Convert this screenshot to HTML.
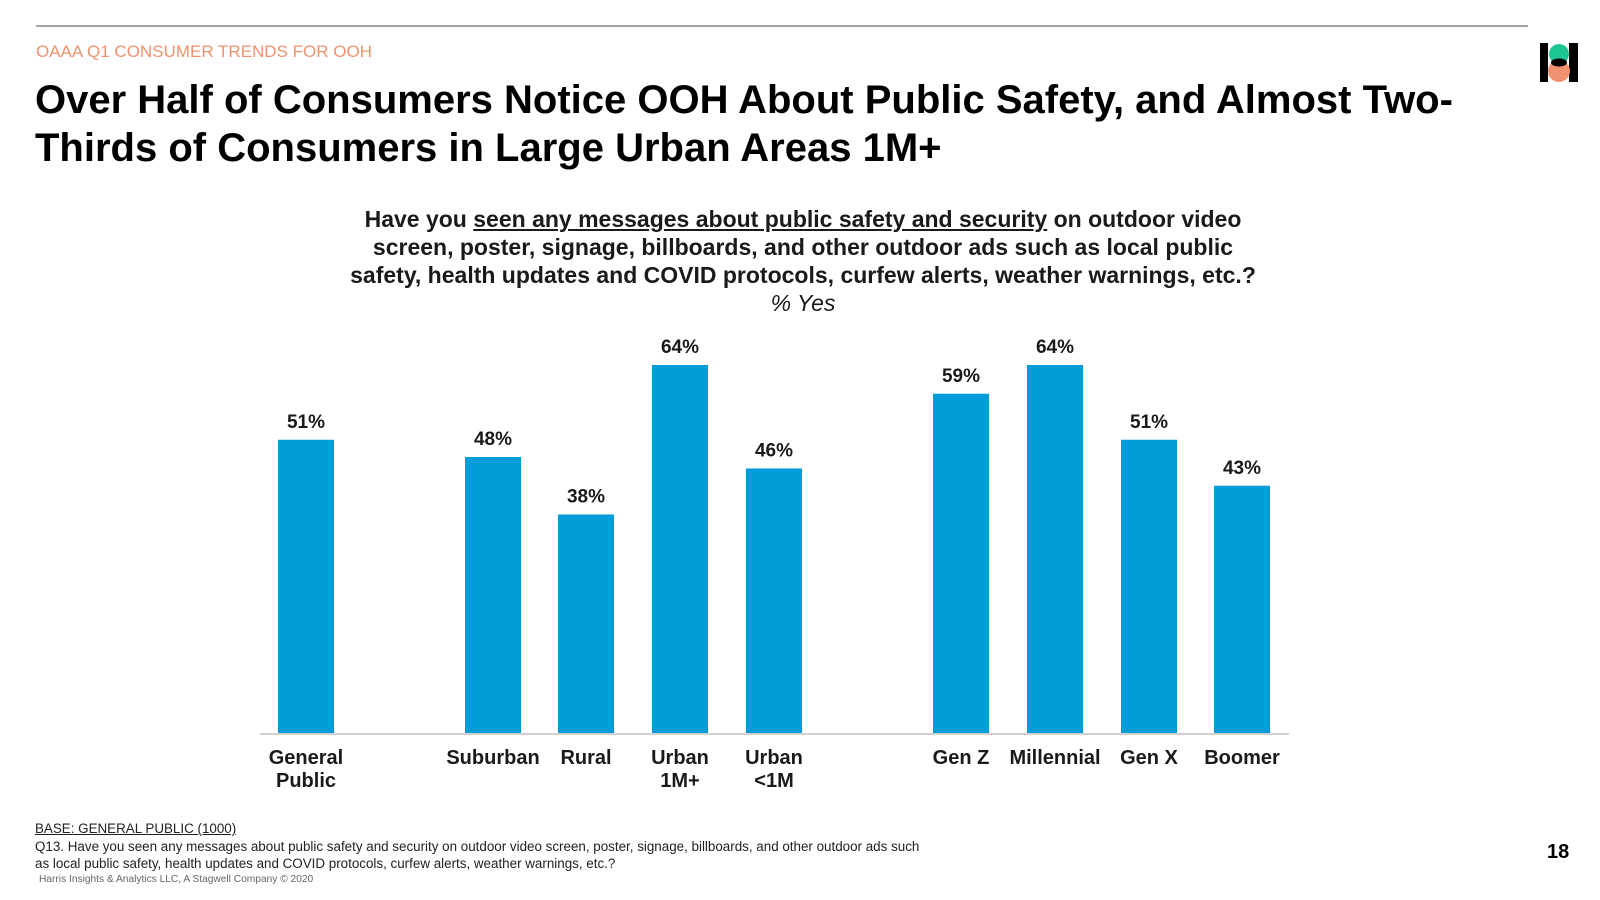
<!DOCTYPE html>
<html><head><meta charset="utf-8"><style>
body{margin:0;width:1600px;height:900px;background:#fff;font-family:"Liberation Sans",Arial,sans-serif;position:relative;overflow:hidden}
.a{position:absolute;white-space:nowrap}
</style></head><body>
<div class="a" style="left:36px;top:25px;width:1492px;height:2px;background:#a6a6a6"></div>
<div class="a" style="left:36px;top:42px;font-size:17px;color:#f0926f">OAAA Q1 CONSUMER TRENDS FOR OOH</div>
<div class="a" style="left:35px;top:76px;font-size:40px;font-weight:bold;line-height:48px;color:#000">Over Half of Consumers Notice OOH About Public Safety, and Almost Two-<br>Thirds of Consumers in Large Urban Areas 1M+</div>
<svg class="a" style="left:1540px;top:43px" width="38" height="39" viewBox="0 0 38 39">
<rect x="0" y="0" width="8" height="39" fill="#000"/><rect x="29" y="0" width="9" height="39" fill="#000"/>
<circle cx="19" cy="11" r="10" fill="#1dc592"/><circle cx="19" cy="28" r="11" fill="#f0926f"/>
<ellipse cx="19" cy="19.5" rx="8" ry="4" fill="#000"/></svg>
<div class="a" style="left:253px;width:1100px;top:205px;text-align:center;font-size:23px;font-weight:bold;line-height:28px;color:#1a1a1a;white-space:normal">Have you <u>seen any messages about public safety and security</u> on outdoor video<br>screen, poster, signage, billboards, and other outdoor ads such as local public<br>safety, health updates and COVID protocols, curfew alerts, weather warnings, etc.?<br><i style="font-weight:normal">% Yes</i></div>
<svg class="a" id="chart" style="left:0;top:0" width="1600" height="800"></svg>
<div class="a" style="left:35px;top:821px;font-size:13.4px;text-decoration:underline;color:#222">BASE: GENERAL PUBLIC (1000)</div>
<div class="a" style="left:35px;top:838px;font-size:13.4px;line-height:17px;color:#222">Q13. Have you seen any messages about public safety and security on outdoor video screen, poster, signage, billboards, and other outdoor ads such<br>as local public safety, health updates and COVID protocols, curfew alerts, weather warnings, etc.?</div>
<div class="a" style="left:39px;top:874px;font-size:10.2px;color:#666">Harris Insights &amp; Analytics LLC, A Stagwell Company © 2020</div>
<div class="a" style="left:1547px;top:841px;font-size:20px;font-weight:bold">18</div>
<script>
const categories=["General|Public","Suburban","Rural","Urban|1M+","Urban|<1M","Gen Z","Millennial","Gen X","Boomer"];
const values=[51,48,38,64,46,59,64,51,43];
const barLeft=[278,465,558,652,746,933,1027,1121,1214];
const barWidth=56;
const svg=document.getElementById('chart');
const NS='http://www.w3.org/2000/svg';
const baseY=733, pxPer=5.75;
function y(v){return baseY-v*pxPer;}
function mk(t,a){const e=document.createElementNS(NS,t);for(const k in a)e.setAttribute(k,a[k]);svg.appendChild(e);return e;}
const ax=mk('line',{x1:260,x2:1289,y1:baseY+1,y2:baseY+1,stroke:'#d0d0d0','stroke-width':2});


values.forEach((v,i)=>{
 const x=barLeft[i],w=barWidth,cx=x+w/2;
 const r=mk('rect',{x:x,y:y(v),width:w,height:baseY-y(v),fill:'#029dd9'});
 
 
 const t=mk('text',{x:cx,y:y(v)-12,'text-anchor':'middle','font-size':19,'font-weight':'bold',fill:'#1a1a1a','font-family':'Liberation Sans, sans-serif'});
 t.textContent=v+'%';
 
 
 categories[i].split('|').forEach((ln,j)=>{
  const c=mk('text',{x:cx,y:764+j*23,'text-anchor':'middle','font-size':20,'font-weight':'bold',fill:'#1a1a1a','font-family':'Liberation Sans, sans-serif'});
  c.textContent=ln;
  
  
 });
});
</script>
</body></html>
